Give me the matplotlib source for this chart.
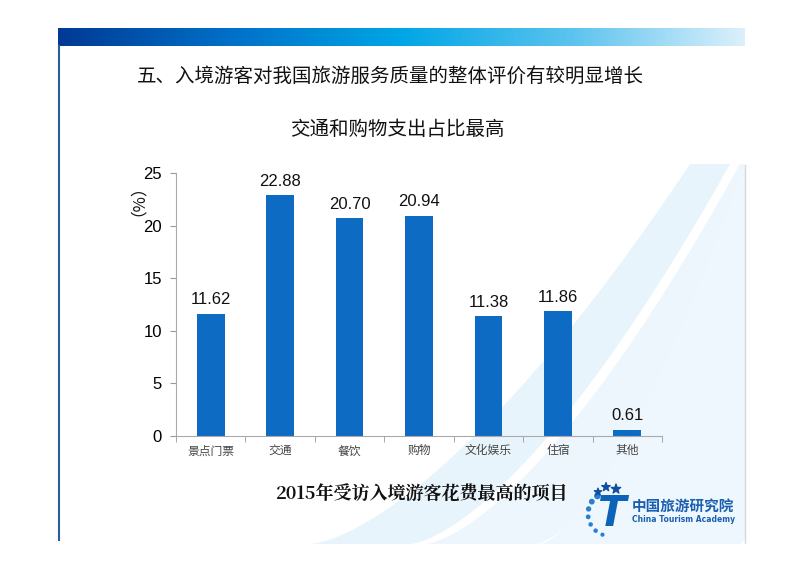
import matplotlib.pyplot as plt
import numpy as np
from matplotlib.patches import Polygon
from matplotlib.colors import LinearSegmentedColormap

plt.rcParams['font.family'] = ['Noto Sans CJK SC', 'DejaVu Sans']

# chart data
categories = ['景点门票', '交通', '餐饮', '购物', '文化娱乐', '住宿', '其他']
shares = [11.62, 22.88, 20.70, 20.94, 11.38, 11.86, 0.61]
y_ticks = [0, 5, 10, 15, 20, 25]

title = '五、入境游客对我国旅游服务质量的整体评价有较明显增长'
subtitle = '交通和购物支出占比最高'
caption = '2015年受访入境游客花费最高的项目'

bar_color = '#0e6bc4'

fig = plt.figure(figsize=(8, 5.65), dpi=100)
W, H = 800, 565


def fx(px):
    return px / W


def fy(py):
    return 1 - py / H


# background swooshes (faint light blue bands, bottom right of the slide)
t = np.linspace(0, 1, 80)
for x0, x1, w, col in [(310, 690, 100, '#e8f4fc'), (425, 740, 110, '#edf6fd'), (540, 745, 200, '#eef7fd')]:
    xs = x0 + (x1 - x0) * t
    ys = 544 - 380 * t ** 1.5
    upper = [(fx(min(a, 745)), fy(b)) for a, b in zip(xs, ys)]
    lower = [(fx(min(a + w * (1 - 0.6 * s), 745)), fy(b)) for a, b, s in zip(xs[::-1], ys[::-1], t[::-1])]
    fig.add_artist(Polygon(upper + lower, closed=True, transform=fig.transFigure,
                           facecolor=col, edgecolor='none', zorder=-5))

# top gradient bar
grad = np.linspace(0, 1, 256).reshape(1, -1)
cmap = LinearSegmentedColormap.from_list('hdr', ['#003a94', '#0070c8', '#00a6e6', '#5cc3ee', '#dcf0fb'])
ax_bar = fig.add_axes([fx(58), fy(46), fx(745) - fx(58), fy(28) - fy(46)])
ax_bar.imshow(grad, aspect='auto', cmap=cmap)
ax_bar.axis('off')

# slide frame lines
fig.add_artist(plt.Line2D([fx(59), fx(59)], [fy(46), fy(540)], color='#2a5d9c', lw=1.5))
fig.add_artist(plt.Line2D([fx(745), fx(745)], [fy(165), fy(543)], color='#d8d8d8', lw=1))

# titles
fig.text(fx(390), fy(76), title, ha='center', va='center', fontsize=14, color='#111111')
fig.text(fx(397), fy(129), subtitle, ha='center', va='center', fontsize=14, color='#111111')
fig.text(fx(422), fy(495), caption, ha='center', va='center', fontsize=13,
         fontweight='bold', color='#111111', family=['Noto Serif CJK SC', 'Noto Sans CJK SC', 'DejaVu Sans'])

# chart
ax = fig.add_axes([fx(176), fy(436), fx(662) - fx(176), fy(173) - fy(436)])
ax.patch.set_alpha(0)
x = np.arange(len(categories))
ax.bar(x, shares, width=0.4, color=bar_color, zorder=2)
for xi, v in zip(x, shares):
    ax.text(xi, v + 0.6, f'{v:.2f}', ha='center', va='bottom', fontsize=12,
            color='#111111', family=['Liberation Sans', 'DejaVu Sans'])

ax.set_xlim(-0.5, len(categories) - 0.5)
ax.set_ylim(0, 25)
ax.set_yticks(y_ticks)
ax.set_yticklabels([str(v) for v in y_ticks], fontsize=12, family=['Liberation Sans', 'DejaVu Sans'])
ax.set_xticks(x)
ax.set_xticklabels(categories, fontsize=8.5, color='#444444')
ax.set_xticks(np.arange(-0.5, len(categories)), minor=True)
ax.tick_params(axis='x', which='major', length=0, pad=6)
ax.tick_params(axis='x', which='minor', length=4, color='#999999', direction='out')
ax.tick_params(axis='y', length=4, color='#999999', direction='out', pad=6)
for s in ['top', 'right']:
    ax.spines[s].set_visible(False)
ax.spines['left'].set_color('#aaaaaa')
ax.spines['bottom'].set_color('#aaaaaa')

fig.text(fx(129), fy(192), '（%）', rotation=90, ha='center', va='center', fontsize=12, color='#111111')

# logo: stars and dots around a slanted T
lg = fig.add_axes([fx(582), fy(545), fx(60), fy(480) - fy(545)])
lg.set_xlim(0, 60)
lg.set_ylim(65, 0)
lg.axis('off')
lg.patch.set_alpha(0)
ang = np.radians(np.linspace(125, 250, 7))
lg.scatter(28 + 22 * np.cos(ang), 34 - 22 * np.sin(ang), s=[14, 10, 8, 6, 5, 5, 4], color='#2a7fd0', marker='o')
lg.scatter([16, 24, 34], [12, 7, 9], s=[30, 40, 50], color='#0d4fa0', marker='*')
lg.text(30, 34, 'T', fontsize=30, fontweight='bold', style='italic', color='#0d63b8',
        ha='center', va='center', family=['DejaVu Sans'])
fig.text(fx(632), fy(506), '中国旅游研究院', fontsize=10.5, fontweight='bold', color='#1a5fb0', va='center')
fig.text(fx(632), fy(520), 'China Tourism Academy', fontsize=5.5, fontweight='bold', color='#1a5fb0',
         va='center', family=['DejaVu Sans'])

fig.savefig('out.png', dpi=100)
